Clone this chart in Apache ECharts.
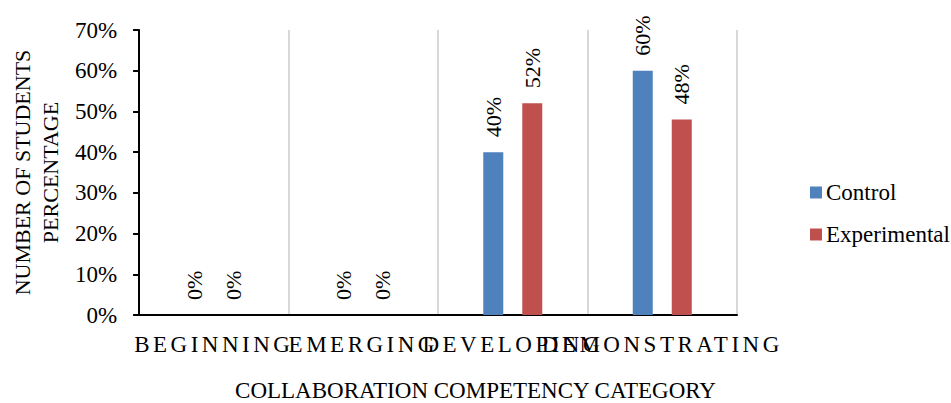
<!DOCTYPE html>
<html>
<head>
<meta charset="utf-8">
<script src="https://cdn.jsdelivr.net/npm/echarts@6/dist/echarts.min.js"></script>
<style>
  html, body { margin: 0; padding: 0; background: #fff; }
  #chart { width: 951px; height: 403px; }
  #chart text { font-family: "Liberation Serif", "Times New Roman", serif !important; }
</style>
</head>
<body>
<div id="chart"></div>
<script>
// Share of students per collaboration competency level
const categories = ['BEGINNING', 'EMERGING', 'DEVELOPING', 'DEMONSTRATING'];
const controlValues = [0, 0, 40, 60];
const experimentalValues = [0, 0, 52, 48];
const yMin = 0;
const yMax = 70;
const yStep = 10;

const FONT = 'Liberation Serif, Times New Roman, serif';
const BLUE = '#4F81BD';
const RED = '#C0504D';

const chart = echarts.init(document.getElementById('chart'), null, { renderer: 'svg' });

const barLabel = {
  show: true,
  position: 'top',
  rotate: 90,
  distance: 15,
  align: 'left',
  verticalAlign: 'middle',
  formatter: p => p.value + '%',
  fontFamily: FONT,
  fontSize: 22,
  color: '#000'
};

chart.setOption({
  animation: false,
  backgroundColor: '#fff',
  textStyle: { fontFamily: FONT },
  title: {
    text: 'COLLABORATION COMPETENCY CATEGORY',
    left: 'center',
    top: 379,
    padding: 0,
    textStyle: { fontFamily: FONT, fontSize: 23, lineHeight: 23, fontWeight: 'normal', color: '#000' }
  },
  legend: {
    orient: 'vertical',
    left: 805,
    top: 176,
    itemWidth: 12,
    itemHeight: 12,
    itemGap: 19,
    icon: 'rect',
    selectedMode: false,
    textStyle: { fontFamily: FONT, fontSize: 23, color: '#000', lineHeight: 23, padding: [0, 0, 0, -1] },
    data: ['Control', 'Experimental']
  },
  grid: { left: 135, right: 214, top: 30, bottom: 88, containLabel: false },
  xAxis: {
    type: 'category',
    data: categories,
    boundaryGap: true,
    axisLine: { lineStyle: { color: '#000', width: 2 } },
    axisTick: { show: false },
    splitLine: { show: true, lineStyle: { color: '#CBCBCB', width: 1.5 } },
    axisLabel: {
      interval: 0,
      margin: 18,
      fontFamily: FONT,
      fontSize: 23,
      color: '#000'
    }
  },
  yAxis: {
    type: 'value',
    min: yMin,
    max: yMax,
    interval: yStep,
    name: 'NUMBER OF STUDENTS\nPERCENTAGE',
    nameLocation: 'middle',
    nameGap: 74,
    nameRotate: 90,
    nameTextStyle: { fontFamily: FONT, fontSize: 22, color: '#000', lineHeight: 28 },
    axisLine: { show: true, lineStyle: { color: '#000', width: 2 } },
    axisTick: { show: true, length: 6, lineStyle: { color: '#000', width: 2 } },
    splitLine: { show: false },
    axisLabel: {
      margin: 22,
      formatter: v => v + '%',
      fontFamily: FONT,
      fontSize: 23,
      color: '#000'
    }
  },
  series: [
    {
      name: 'Control',
      type: 'bar',
      data: controlValues,
      barWidth: 20,
      barGap: '95%',
      itemStyle: { color: BLUE },
      label: barLabel,
      silent: true
    },
    {
      name: 'Experimental',
      type: 'bar',
      data: experimentalValues,
      barWidth: 20,
      itemStyle: { color: RED },
      label: barLabel,
      silent: true
    }
  ]
});

// Category labels are set with wide letter spacing
function spaceCategoryLabels() {
  document.querySelectorAll('#chart text').forEach(t => {
    if (categories.includes(t.textContent.trim())) {
      t.style.letterSpacing = '3.5px';
    }
  });
}
chart.on('finished', spaceCategoryLabels);
spaceCategoryLabels();
</script>
</body>
</html>
